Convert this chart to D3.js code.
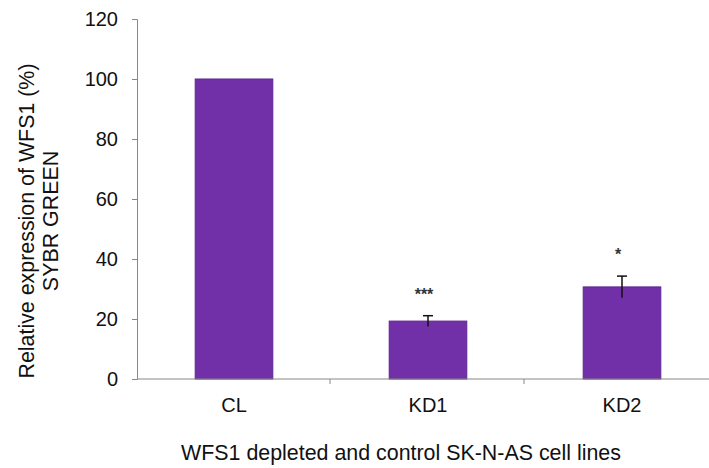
<!DOCTYPE html>
<html>
<head>
<meta charset="utf-8">
<script src="https://cdnjs.cloudflare.com/ajax/libs/d3/7.8.5/d3.min.js"></script>
<style>
  html, body { margin: 0; padding: 0; background: #fff; }
  svg { display: block; font-family: "Liberation Sans", Arial, sans-serif; }
</style>
</head>
<body>
<svg id="chart" width="709" height="468"></svg>
<script>
// Relative WFS1 expression (SYBR Green qPCR) in SK-N-AS cell lines
const categories = ["CL", "KD1", "KD2"];
const values = [100, 19.3, 30.7];
const errors = [0, 1.8, 3.6];
const significance = ["", "***", "*"];
const yTicks = [0, 20, 40, 60, 80, 100, 120];

const svg = d3.select("#chart");
const margin = { left: 137, top: 19, bottom: 89 };
const plotBottom = 468 - margin.bottom;
const slot = 194;

const x = d3.scaleBand()
  .domain(categories)
  .range([margin.left, margin.left + categories.length * slot])
  .paddingInner(0.6)
  .paddingOuter(0.3);

const y = d3.scaleLinear().domain([0, 120]).range([plotBottom, margin.top]);

const axisColor = "#888";

// y axis
const yAxis = svg.append("g")
  .attr("transform", `translate(${margin.left},0)`)
  .call(d3.axisLeft(y).tickValues(yTicks).tickSize(5).tickPadding(14));
yAxis.select(".domain").attr("stroke", axisColor);
yAxis.selectAll(".tick line").attr("stroke", axisColor);
yAxis.selectAll(".tick text").attr("font-size", 20).attr("fill", "#111")
  .attr("font-family", "Liberation Sans, Arial, sans-serif");

// bars
svg.append("g").selectAll("rect")
  .data(categories)
  .join("rect")
  .attr("x", d => x(d))
  .attr("width", x.bandwidth())
  .attr("y", (d, i) => y(values[i]))
  .attr("height", (d, i) => y(0) - y(values[i]))
  .attr("fill", "#7230a8")
  .attr("stroke", "#5e2690")
  .attr("stroke-width", 1);

// error bars
const eb = svg.append("g").attr("stroke", "#111").attr("stroke-width", 1.5);
categories.forEach((c, i) => {
  if (!errors[i]) return;
  const cx = x(c) + x.bandwidth() / 2;
  eb.append("line")
    .attr("x1", cx).attr("x2", cx)
    .attr("y1", y(values[i] - errors[i])).attr("y2", y(values[i] + errors[i]));
  eb.append("line")
    .attr("x1", cx - 5).attr("x2", cx + 5)
    .attr("y1", y(values[i] + errors[i])).attr("y2", y(values[i] + errors[i]));
});

// significance markers
svg.append("g").selectAll("text")
  .data(categories)
  .join("text")
  .attr("x", d => x(d) + x.bandwidth() / 2 - 4)
  .attr("y", (d, i) => y(values[i] + errors[i]) - 16)
  .attr("text-anchor", "middle")
  .attr("font-size", 16)
  .attr("font-weight", "bold")
  .attr("fill", "#333")
  .text((d, i) => significance[i]);

// x axis with boundary ticks between categories
svg.append("line")
  .attr("x1", margin.left).attr("x2", 709)
  .attr("y1", plotBottom).attr("y2", plotBottom)
  .attr("stroke", axisColor);
d3.range(1, categories.length).forEach(k => {
  const tx = margin.left + k * slot - 1;
  svg.append("line")
    .attr("x1", tx).attr("x2", tx)
    .attr("y1", plotBottom).attr("y2", plotBottom + 5)
    .attr("stroke", axisColor);
});

svg.append("g").selectAll("text")
  .data(categories)
  .join("text")
  .attr("x", d => x(d) + x.bandwidth() / 2)
  .attr("y", plotBottom + 33)
  .attr("text-anchor", "middle")
  .attr("font-size", 20)
  .attr("fill", "#111")
  .text(d => d);

// axis titles
svg.append("text")
  .attr("x", 401).attr("y", 460)
  .attr("text-anchor", "middle")
  .attr("font-size", 21.4)
  .attr("fill", "#111")
  .text("WFS1 depleted and control SK-N-AS cell lines");

const yTitle = svg.append("text")
  .attr("transform", `translate(34,221) rotate(-90)`)
  .attr("text-anchor", "middle")
  .attr("font-size", 21.4)
  .attr("fill", "#111");
yTitle.append("tspan").attr("x", 0).attr("dy", 0).text("Relative expression of WFS1 (%)");
yTitle.append("tspan").attr("x", 0).attr("dy", 24).text("SYBR GREEN");
</script>
</body>
</html>
